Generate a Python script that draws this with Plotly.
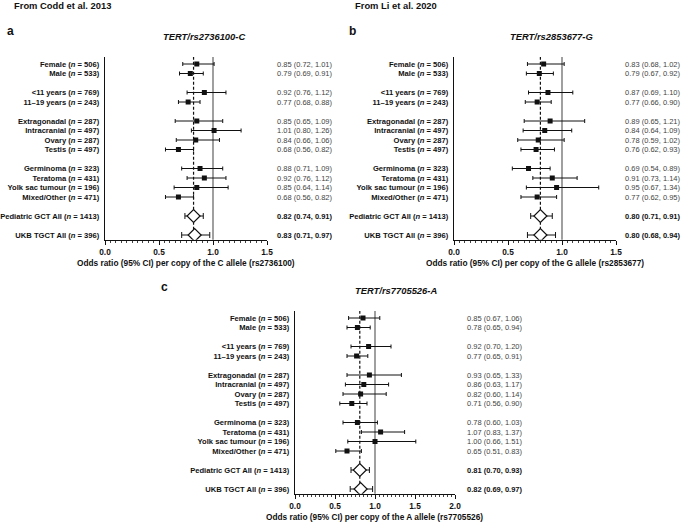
import plotly.graph_objects as go

W, H = 682, 522

# ---------------- data ----------------
categories = [
    "Female (<i>n</i> = 506)", "Male (<i>n</i> = 533)",
    "&lt;11 years (<i>n</i> = 769)", "11–19 years (<i>n</i> = 243)",
    "Extragonadal (<i>n</i> = 287)", "Intracranial (<i>n</i> = 497)",
    "Ovary (<i>n</i> = 287)", "Testis (<i>n</i> = 497)",
    "Germinoma (<i>n</i> = 323)", "Teratoma (<i>n</i> = 431)",
    "Yolk sac tumour (<i>n</i> = 196)", "Mixed/Other (<i>n</i> = 471)",
    "Pediatric GCT All (<i>n</i> = 1413)", "UKB TGCT All (<i>n</i> = 396)",
]
group_sizes = [2, 2, 4, 4, 1, 1]
n_pooled = 2  # last two rows are pooled estimates (diamonds)

or_a = [0.85, 0.79, 0.92, 0.77, 0.85, 1.01, 0.84, 0.68, 0.88, 0.92, 0.85, 0.68, 0.82, 0.83]
lo_a = [0.72, 0.69, 0.76, 0.68, 0.65, 0.80, 0.66, 0.56, 0.71, 0.76, 0.64, 0.56, 0.74, 0.71]
hi_a = [1.01, 0.91, 1.12, 0.88, 1.09, 1.26, 1.06, 0.82, 1.09, 1.12, 1.14, 0.82, 0.91, 0.97]

or_b = [0.83, 0.79, 0.87, 0.77, 0.89, 0.84, 0.78, 0.76, 0.69, 0.91, 0.95, 0.77, 0.80, 0.80]
lo_b = [0.68, 0.67, 0.69, 0.66, 0.65, 0.64, 0.59, 0.62, 0.54, 0.73, 0.67, 0.62, 0.71, 0.68]
hi_b = [1.02, 0.92, 1.10, 0.90, 1.21, 1.09, 1.02, 0.93, 0.89, 1.14, 1.34, 0.95, 0.91, 0.94]

or_c = [0.85, 0.78, 0.92, 0.77, 0.93, 0.86, 0.82, 0.71, 0.78, 1.07, 1.00, 0.65, 0.81, 0.82]
lo_c = [0.67, 0.65, 0.70, 0.65, 0.65, 0.63, 0.60, 0.56, 0.60, 0.83, 0.66, 0.51, 0.70, 0.69]
hi_c = [1.06, 0.94, 1.20, 0.91, 1.33, 1.17, 1.14, 0.90, 1.03, 1.37, 1.51, 0.83, 0.93, 0.97]

titles = ["TERT/rs2736100-C", "TERT/rs2853677-G", "TERT/rs7705526-A"]
xtitles = [
    "Odds ratio (95% CI) per copy of the C allele (rs2736100)",
    "Odds ratio (95% CI) per copy of the G allele (rs2853677)",
    "Odds ratio (95% CI) per copy of the A allele (rs7705526)",
]
letters = ["a", "b", "c"]
sources = ["From Codd et al. 2013", "From Li et al. 2020", None]
x_max = [1.5, 1.5, 2.0]
x_ticks = [[0.0, 0.5, 1.0, 1.5], [0.0, 0.5, 1.0, 1.5], [0.0, 0.5, 1.0, 1.5, 2.0]]

# ---------------- layout helpers ----------------
FONT = "Arial, Liberation Sans, sans-serif"
def PX(x):
    return x / W
def PY(y):
    return 1 - y / H

# row positions from group structure
pos = []
r = 0
for g in group_sizes:
    for _ in range(g):
        pos.append(r)
        r += 1
    r += 1

ROW = 9.5
Y_TOP, Y_BOT = -0.74, 18.5

panels = [
    dict(x0=105, x1=267, row0=64, val_x=305, title_x=204, letter=(5, 31), src=(12, 6)),
    dict(x0=454, x1=616, row0=64, val_x=653, title_x=551, letter=(347, 31), src=(353, 6)),
    dict(x0=295, x1=455, row0=318, val_x=495, title_x=396, letter=(159, 287), src=None),
]
data = [(or_a, lo_a, hi_a), (or_b, lo_b, hi_b), (or_c, lo_c, hi_c)]

fig = go.Figure()
annotations = []
shapes = []

for i, (p, (o, lo, hi)) in enumerate(zip(panels, data)):
    k = "" if i == 0 else str(i + 1)
    xa, ya = "x" + k, "y" + k
    n_ind = len(o) - n_pooled
    top_px = p["row0"] + Y_TOP * ROW
    bot_px = p["row0"] + Y_BOT * ROW

    # individual estimates (squares)
    fig.add_trace(go.Scatter(
        x=o[:n_ind], y=pos[:n_ind], mode="markers",
        marker=dict(symbol="square", size=5, color="#111"),
        error_x=dict(type="data", symmetric=False,
                     array=[h - v for h, v in zip(hi[:n_ind], o[:n_ind])],
                     arrayminus=[v - l for v, l in zip(o[:n_ind], lo[:n_ind])],
                     color="#111", thickness=1, width=2),
        xaxis=xa, yaxis=ya, showlegend=False, hoverinfo="skip"))
    # pooled estimates (diamonds)
    fig.add_trace(go.Scatter(
        x=o[n_ind:], y=pos[n_ind:], mode="markers",
        marker=dict(symbol="diamond", size=10, color="white",
                    line=dict(color="#111", width=1.2)),
        error_x=dict(type="data", symmetric=False,
                     array=[h - v for h, v in zip(hi[n_ind:], o[n_ind:])],
                     arrayminus=[v - l for v, l in zip(o[n_ind:], lo[n_ind:])],
                     color="#111", thickness=1, width=3),
        xaxis=xa, yaxis=ya, showlegend=False, hoverinfo="skip"))

    xd = [PX(p["x0"]), PX(p["x1"])]
    yd = [PY(bot_px), PY(top_px)]
    fig.update_layout(**{
        "xaxis" + k: dict(domain=xd, range=[0, x_max[i]], anchor=ya,
                          tickvals=x_ticks[i], ticktext=[f"{t:.1f}" for t in x_ticks[i]],
                          showline=True, linecolor="#111", linewidth=1,
                          ticks="outside", ticklen=4, tickwidth=1, tickcolor="#111",
                          minor=dict(dtick=0.05, tick0=0, ticks="outside", ticklen=2,
                                     tickwidth=0.8, tickcolor="#111", showgrid=False),
                          showgrid=False, zeroline=False, automargin=False, fixedrange=True,
                          tickfont=dict(size=8.3, family=FONT, color="#111", weight="bold")),
        "yaxis" + k: dict(domain=yd, range=[Y_BOT, Y_TOP], anchor=xa,
                          tickvals=pos, ticktext=categories, ticks="",
                          showline=True, linecolor="#111", linewidth=1.2,
                          showgrid=False, zeroline=False, automargin=False, fixedrange=True,
                          ticklabelstandoff=3,
                          tickfont=dict(size=7.6, family=FONT, color="#111", weight="bold")),
    })

    # reference line at OR = 1 and dashed line at pooled paediatric OR
    shapes.append(dict(type="line", xref=xa, yref=ya + " domain", x0=1, x1=1, y0=0, y1=1,
                       line=dict(color="#777", width=1.4), layer="below"))
    shapes.append(dict(type="line", xref=xa, yref=ya + " domain", x0=o[n_ind], x1=o[n_ind],
                       y0=0, y1=1, line=dict(color="#111", width=1.2, dash="3px,2px"),
                       layer="below"))

    # OR (95% CI) column
    annotations.append(dict(text="<b>OR (95% CI)</b>", xref="paper", yref=ya,
                            x=PX(p["val_x"]), y=-1, xanchor="center", yanchor="middle",
                            showarrow=False, font=dict(size=7.5, family=FONT, color="#111")))
    for j in range(len(o)):
        txt = f"{o[j]:.2f} ({lo[j]:.2f}, {hi[j]:.2f})"
        pooled = j >= n_ind
        annotations.append(dict(text=f"<b>{txt}</b>" if pooled else txt,
                                xref="paper", yref=ya, x=PX(p["val_x"]), y=pos[j],
                                xanchor="center", yanchor="middle", showarrow=False,
                                font=dict(size=7.5, family=FONT,
                                          color="#111" if pooled else "#444")))

    # panel title
    annotations.append(dict(text=f"<b><i>{titles[i]}</i></b>", xref="paper", yref="paper",
                            x=PX(p["title_x"]), y=PY(p["row0"] - 28), xanchor="center",
                            yanchor="middle", showarrow=False,
                            font=dict(size=9.4, family=FONT, color="#111")))
    # x-axis title
    annotations.append(dict(text=f"<b>{xtitles[i]}</b>", xref="paper", yref="paper",
                            x=(xd[0] + xd[1]) / 2, y=PY(bot_px + 23.5), xanchor="center",
                            yanchor="middle", showarrow=False,
                            font=dict(size=8.3, family=FONT, color="#111")))
    # panel letter
    lx, ly = p["letter"]
    annotations.append(dict(text=f"<b>{letters[i]}</b>", xref="paper", yref="paper",
                            x=PX(lx), y=PY(ly), xanchor="left", yanchor="middle",
                            showarrow=False, font=dict(size=12, family=FONT, color="#111")))
    if sources[i]:
        sx, sy = p["src"]
        annotations.append(dict(text=f"<b>{sources[i]}</b>", xref="paper", yref="paper",
                                x=PX(sx), y=PY(sy), xanchor="left", yanchor="middle",
                                showarrow=False, font=dict(size=9.4, family=FONT, color="#111")))

fig.update_layout(
    width=W, height=H, autosize=False,
    margin=dict(l=0, r=0, t=0, b=0, pad=0),
    paper_bgcolor="white", plot_bgcolor="white",
    font=dict(family=FONT, color="#111"),
    annotations=annotations, shapes=shapes,
)

# remove the browser's default 8px body margin so the figure fills the window
fig.write_html("out.html",
               config={"displayModeBar": False, "staticPlot": True},
               post_script="document.body.style.margin='0px';document.body.style.overflow='hidden';")
